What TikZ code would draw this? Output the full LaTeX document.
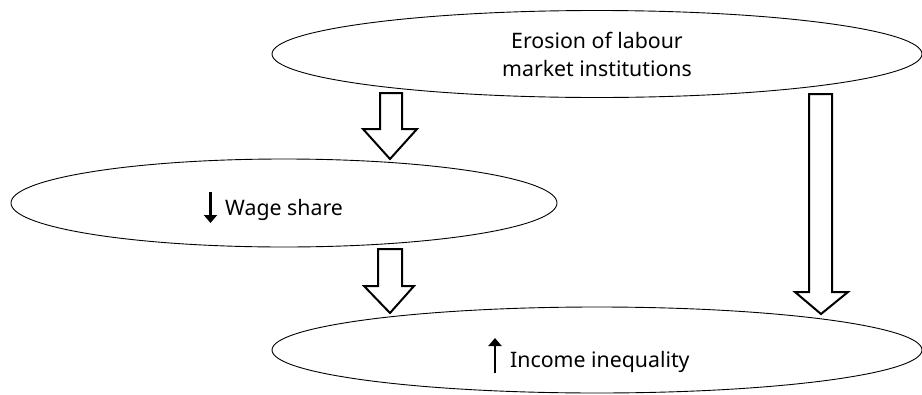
\documentclass[tikz,border=0pt]{standalone}
\usepackage{fontspec}
\setmainfont{Noto Sans}
\usetikzlibrary{shapes.geometric,arrows.meta}
\tikzset{
  bubble/.style={draw, ellipse, line width=0.9pt, inner sep=0pt},
  label/.style={font=\fontsize{21.3}{28}\selectfont, inner sep=0pt, align=center},
  blockarrow/.style={draw, line width=2pt, line join=miter, fill=white},
  updown/.style={line width=2.6pt, -{Triangle[length=8pt,width=13pt]}}
}
\begin{document}
\begin{tikzpicture}[x=1pt,y=-1pt]
\useasboundingbox (0,0) rectangle (922,394);
% ellipses
\node[bubble, minimum width=650pt, minimum height=87pt] (top) at (597,54) {};
\node[bubble, minimum width=546pt, minimum height=88pt] (mid) at (284,203) {};
\node[bubble, minimum width=650pt, minimum height=86pt] (bot) at (597,350) {};
% texts
\node[label] (toptxt) at (top.center) {Erosion of labour\\market institutions};
\node[label, anchor=base west] (midtxt) at (225,215) {Wage share};
\node[label, anchor=base west] (bottxt) at (510,367) {Income inequality};
\coordinate (dnA) at (210.5,192);
\coordinate (dnB) at (210.5,223);
\draw[updown] (dnA) -- (dnB);
\coordinate (upA) at (495,373);
\coordinate (upB) at (495,338);
\draw[updown] (upA) -- (upB);
% block arrows
\draw[blockarrow] (380,93) -- (402,93) -- (402,129) -- (417,129) -- (390,159) -- (363,129) -- (380,129) -- cycle;
\draw[blockarrow] (378,249) -- (402,249) -- (402,286) -- (414,286) -- (390,313) -- (364,286) -- (378,286) -- cycle;
\draw[blockarrow] (809,94) -- (832,94) -- (832,292) -- (848,292) -- (821,314) -- (795,292) -- (809,292) -- cycle;
\end{tikzpicture}
\end{document}
